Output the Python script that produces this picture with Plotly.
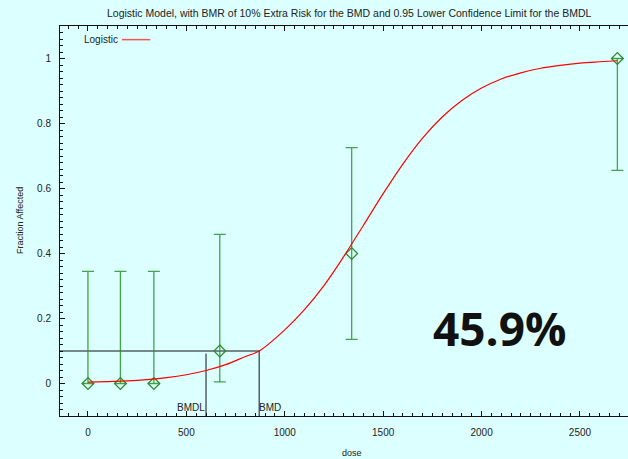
import plotly.graph_objects as go

# Observed dose groups: fraction affected with 95% confidence limits
dose = [0, 165, 335, 670, 1340, 2690]
frac_affected = [0.0, 0.0, 0.0, 0.1, 0.4, 1.0]
upper_limit = [0.345, 0.345, 0.345, 0.459, 0.726, 1.0]
lower_limit = [0.0, 0.0, 0.0, 0.005, 0.136, 0.656]

# Fitted logistic model, evaluated along the dose range
model_dose = [0, 100, 200, 300, 400, 500, 600, 700, 800, 870, 1000, 1100,
              1200, 1300, 1400, 1500, 1600, 1700, 1800, 1900, 2000, 2100,
              2200, 2300, 2400, 2500, 2600, 2690]
model_resp = [0.004, 0.006, 0.008, 0.012, 0.018, 0.027, 0.040, 0.058, 0.083,
              0.100, 0.165, 0.227, 0.302, 0.391, 0.487, 0.584, 0.675, 0.755,
              0.820, 0.871, 0.909, 0.937, 0.956, 0.970, 0.979, 0.986, 0.990,
              0.993]

# Benchmark dose results
bmr_level = 0.1
bmd = 870
bmdl = 600
bmdl_top = 0.092
headline = "45.9%"

x_range = [-142, 2744]
y_range = [-0.1, 1.1]
x_ticks = [0, 500, 1000, 1500, 2000, 2500]
y_ticks = [0, 0.2, 0.4, 0.6, 0.8, 1]

bg = "#DCFFFF"
ink = "#222222"
font_family = "Liberation Sans, Arial, sans-serif"

err_plus = [u - f for u, f in zip(upper_limit, frac_affected)]
err_minus = [f - l for f, l in zip(frac_affected, lower_limit)]

fig = go.Figure()

# BMD / BMDL reference lines
fig.add_trace(go.Scatter(
    x=[x_range[0], bmd, bmd], y=[bmr_level, bmr_level, y_range[0]],
    mode="lines", line=dict(color="#111111", width=1), showlegend=False,
    hoverinfo="skip"))
fig.add_trace(go.Scatter(
    x=[bmdl, bmdl], y=[bmdl_top, y_range[0]],
    mode="lines", line=dict(color="#111111", width=1), showlegend=False,
    hoverinfo="skip"))

# Observed data with error bars
fig.add_trace(go.Scatter(
    x=dose, y=frac_affected, mode="markers",
    marker=dict(symbol="diamond-open", size=9, color="#2A8C2A",
                line=dict(width=1.3, color="#2A8C2A")),
    error_y=dict(type="data", array=err_plus, arrayminus=err_minus,
                 color="rgba(45,145,45,0.85)", thickness=1.3, width=6),
    showlegend=False))

# Logistic fit
fig.add_trace(go.Scatter(
    x=model_dose, y=model_resp, mode="lines", name="Logistic",
    line=dict(color="#FF0000", width=1.2, shape="spline", smoothing=1.0),
    showlegend=False))

axis_common = dict(
    showline=True, linecolor="#111111", linewidth=1,
    ticks="inside", tickcolor="#111111", ticklen=5, tickwidth=1,
    showgrid=False, zeroline=False,
    tickfont=dict(family=font_family, size=10, color=ink),
)

fig.update_xaxes(
    range=x_range, tickvals=x_ticks, mirror="ticks",
    minor=dict(dtick=50, tick0=0, ticks="inside", ticklen=3,
               tickcolor="#111111", showgrid=False),
    ticklabelstandoff=7, **axis_common)
fig.update_yaxes(
    range=y_range, tickvals=y_ticks, ticktext=["0", "0.2", "0.4", "0.6", "0.8", "1"],
    minor=dict(dtick=0.02, tick0=0, ticks="inside", ticklen=3,
               tickcolor="#111111", showgrid=False),
    ticklabelstandoff=6, **axis_common)

annotations = [
    dict(text="Logistic Model, with BMR of 10% Extra Risk for the BMD and 0.95 Lower Confidence Limit for the BMDL",
         xref="paper", yref="paper", x=0.51, y=1.0, yshift=13,
         xanchor="center", yanchor="middle",
         showarrow=False, font=dict(family=font_family, size=10.5, color=ink)),
    dict(text="Fraction Affected", xref="paper", yref="paper",
         x=-0.0704, y=0.5, textangle=-90, xanchor="center", yanchor="middle",
         showarrow=False, font=dict(family=font_family, size=9, color=ink)),
    dict(text="dose", xref="paper", yref="paper", x=0.514, y=0, yshift=-37,
         xanchor="center", yanchor="middle",
         showarrow=False, font=dict(family=font_family, size=9, color=ink)),
    dict(text="Logistic", xref="paper", yref="paper", x=0.0394, y=0.965,
         xanchor="left", yanchor="middle", showarrow=False,
         font=dict(family=font_family, size=10, color=ink)),
    dict(text="BMDL", x=bmdl, y=y_range[0], xanchor="right", yanchor="bottom",
         yshift=1, showarrow=False, xshift=1,
         font=dict(family=font_family, size=10, color=ink)),
    dict(text="BMD", x=bmd, y=y_range[0], xanchor="left", yanchor="bottom",
         yshift=1, showarrow=False, xshift=-2,
         font=dict(family=font_family, size=10, color=ink)),
    dict(text="<b>" + headline + "</b>", x=2090, y=0.17, showarrow=False,
         font=dict(family="Open Sans, sans-serif", size=46, color="#111111")),
]

fig.update_layout(
    width=628, height=459,
    margin=dict(l=60, r=0, t=26, b=43),
    paper_bgcolor=bg, plot_bgcolor=bg,
    annotations=annotations,
    shapes=[dict(type="line", xref="paper", yref="paper",
                 x0=0.109, x1=0.159, y0=0.965, y1=0.965,
                 line=dict(color="#FF5050", width=1.5))],
)

fig.write_html("out.html")
